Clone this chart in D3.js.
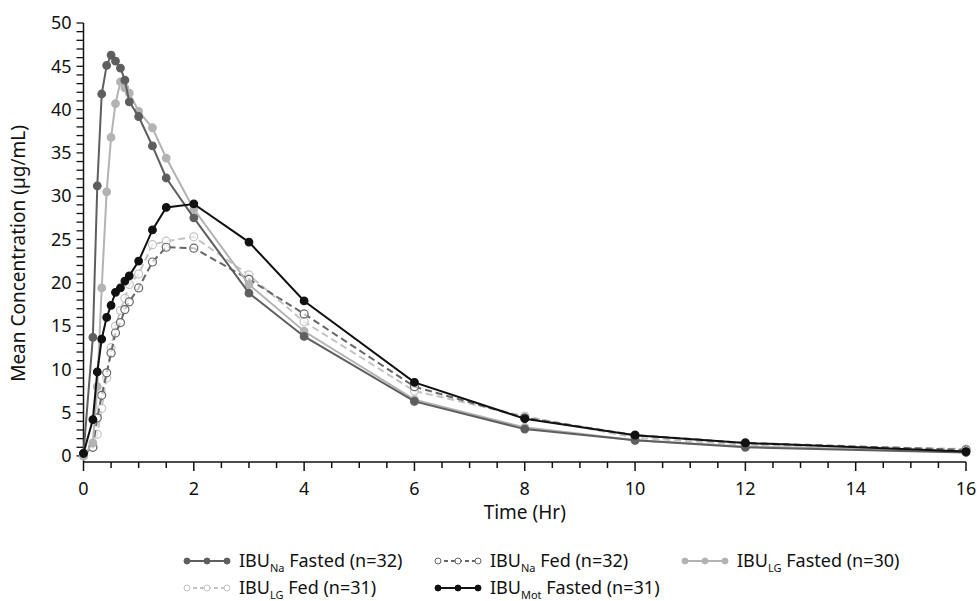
<!DOCTYPE html>
<html>
<head>
<meta charset="utf-8">
<script src="https://cdn.jsdelivr.net/npm/d3@7"></script>
<style>
  body { margin: 0; background: #fff; }
  text { font-family: "Noto Sans", sans-serif; fill: #111; }
</style>
</head>
<body>
<div class="chart"></div>
<script>
// sampling times (hr)
const times = [0, 0.17, 0.25, 0.33, 0.42, 0.5, 0.58, 0.67, 0.75, 0.83, 1, 1.25, 1.5, 2, 3, 4, 6, 8, 10, 12, 16];

// mean concentrations (ug/mL)
const naFasted = [0.3, 13.7, 31.2, 41.8, 45.1, 46.3, 45.6, 44.8, 43.4, 40.9, 39.2, 35.8, 32.1, 27.5, 18.8, 13.8, 6.3, 3.1, 1.8, 1.0, 0.4];
const naFed = [0.2, 1.0, 4.4, 7.0, 9.6, 11.9, 14.2, 15.4, 16.9, 17.8, 19.4, 22.4, 24.1, 24.0, 20.4, 16.4, 8.0, 4.4, 2.4, 1.5, 0.7];
const lgFasted = [0, 1.5, 8.0, 19.4, 30.5, 36.8, 40.7, 43.2, 42.5, 41.9, 39.8, 37.9, 34.4, 28.5, 19.8, 14.4, 6.5, 3.3, 1.8, 1.1, 0.5];
const lgFed = [0, 1.0, 2.5, 5.5, 9.0, 12.5, 15.0, 16.8, 18.2, 19.8, 21.0, 24.4, 24.8, 25.3, 20.9, 15.5, 7.5, 4.6, 2.1, 1.3, 0.8];
const motFasted = [0.3, 4.2, 9.7, 13.5, 16.0, 17.4, 18.9, 19.4, 20.2, 20.8, 22.5, 26.1, 28.7, 29.1, 24.7, 17.9, 8.5, 4.3, 2.4, 1.5, 0.5];

const xTicks = [0, 2, 4, 6, 8, 10, 12, 14, 16];
const yTicks = [0, 5, 10, 15, 20, 25, 30, 35, 40, 45, 50];

const series = [
  { sub: "Na", label: " Fasted (n=32)", values: naFasted, color: "#5e5e5e", dash: null, open: false },
  { sub: "Na", label: " Fed (n=32)", values: naFed, color: "#666", dash: "7,4", open: true },
  { sub: "LG", label: " Fasted (n=30)", values: lgFasted, color: "#b3b3b3", dash: null, open: false },
  { sub: "LG", label: " Fed (n=31)", values: lgFed, color: "#c4c4c4", dash: "7,4", open: true },
  { sub: "Mot", label: " Fasted (n=31)", values: motFasted, color: "#111", dash: null, open: false },
];
// draw order: light first, black on top
const drawOrder = [3, 1, 2, 0, 4];

const W = 977, H = 601;
const svg = d3.select(".chart").append("svg").attr("width", W).attr("height", H);

const x = d3.scaleLinear().domain([0, 16]).range([83.5, 966]);
const y = d3.scaleLinear().domain([-0.7, 50]).range([462, 23]);

// x axis
const xAxis = svg.append("g").attr("transform", "translate(0,462)");
xAxis.append("line").attr("x1", x(0)).attr("x2", x(16)).attr("stroke", "#111").attr("stroke-width", 1.5);
xAxis.selectAll(".xt").data(d3.range(0, 16.01, 0.5)).enter().append("line")
  .attr("x1", d => x(d)).attr("x2", d => x(d))
  .attr("y1", 0).attr("y2", d => (d % 2 === 0 ? 9 : 6))
  .attr("stroke", "#111").attr("stroke-width", 1.5);
xAxis.selectAll(".xl").data(xTicks).enter().append("text")
  .attr("x", d => x(d)).attr("y", 33)
  .attr("text-anchor", "middle").style("font-size", "18px").text(d => d);

// y axis
const yAxis = svg.append("g").attr("transform", "translate(83.5,0)");
yAxis.append("line").attr("y1", 462).attr("y2", y(50)).attr("stroke", "#111").attr("stroke-width", 1.5);
yAxis.selectAll(".yt").data(d3.range(0, 50.01, 1)).enter().append("line")
  .attr("y1", d => y(d)).attr("y2", d => y(d))
  .attr("x1", -7).attr("x2", 0)
  .attr("stroke", "#111").attr("stroke-width", 1.3);
yAxis.selectAll(".yl").data(yTicks).enter().append("text")
  .attr("x", -12).attr("y", d => y(d)).attr("dy", "0.35em")
  .attr("text-anchor", "end").style("font-size", "18px").text(d => d);

svg.append("text").attr("x", x(8)).attr("y", 519).attr("text-anchor", "middle")
  .style("font-size", "19px").text("Time (Hr)");
svg.append("text").attr("transform", "translate(25," + (y(25) + 14) + ") rotate(-90)")
  .attr("text-anchor", "middle").style("font-size", "19px").text("Mean Concentration (µg/mL)");

// lines
const line = d3.line().x(d => x(d[0])).y(d => y(d[1]));
drawOrder.forEach(i => {
  const s = series[i];
  const pts = times.map((t, k) => [t, s.values[k]]);
  const g = svg.append("g");
  g.append("path").datum(pts).attr("d", line)
    .attr("fill", "none").attr("stroke", s.color).attr("stroke-width", 2)
    .attr("stroke-dasharray", s.dash);
  g.selectAll("circle").data(pts).enter().append("circle")
    .attr("cx", d => x(d[0])).attr("cy", d => y(d[1])).attr("r", s.open ? 4 : 3.8)
    .attr("fill", s.open ? "#fff" : s.color)
    .attr("fill-opacity", s.open ? 0.6 : 1)
    .attr("stroke", s.color).attr("stroke-width", 1.2);
});

// legend
const legendPos = [[186, 561], [437, 561], [684, 561], [186, 588], [437, 588]];
series.forEach((s, i) => {
  const [lx, ly] = legendPos[i];
  const g = svg.append("g").attr("transform", "translate(" + lx + "," + ly + ")");
  g.append("line").attr("x1", 0).attr("x2", 42).attr("stroke", s.color).attr("stroke-width", 2)
    .attr("stroke-dasharray", s.dash ? "4,3" : null);
  g.selectAll("circle").data([1, 21, 41]).enter().append("circle")
    .attr("cx", d => d).attr("r", 3)
    .attr("fill", s.open ? "#fff" : s.color).attr("stroke", s.color).attr("stroke-width", 1);
  const t = g.append("text").attr("x", 53).attr("dy", "0.35em").style("font-size", "18px");
  t.append("tspan").text("IBU");
  t.append("tspan").attr("dy", 5).style("font-size", "11px").text(s.sub);
  t.append("tspan").attr("dy", -5).text(s.label);
});
</script>
</body>
</html>
